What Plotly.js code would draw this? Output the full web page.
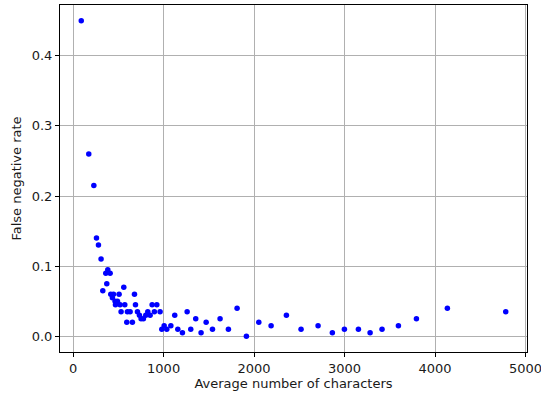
<!DOCTYPE html>
<html>
<head>
<meta charset="utf-8">
<script src="https://cdn.plot.ly/plotly-3.0.1.min.js"></script>
<style>html,body{margin:0;padding:0;background:#fff;}#chart{width:541px;height:398px;}</style>
</head>
<body>
<div id="chart"></div>
<script>
const avgChars = [90, 173, 229, 258, 280, 309, 328, 361, 372, 383, 409, 416, 434, 446, 464, 468, 490, 508, 519, 530,
  560, 571, 593, 600, 630, 655, 678, 689, 711, 733, 751, 777, 803, 825, 851, 873, 898, 925, 961, 980,
  1006, 1035, 1080, 1123, 1157, 1208, 1260, 1300, 1355, 1414, 1470, 1540, 1624, 1716, 1812, 1915, 2052, 2188, 2357, 2519,
  2707, 2865, 2998, 3153, 3282, 3414, 3595, 3794, 4136, 4781];
const fnRate = [0.45, 0.26, 0.215, 0.14, 0.13, 0.11, 0.065, 0.09, 0.075, 0.095, 0.09, 0.06, 0.055, 0.06, 0.05, 0.045, 0.05, 0.06, 0.045, 0.035,
  0.07, 0.045, 0.02, 0.035, 0.035, 0.02, 0.06, 0.045, 0.035, 0.03, 0.025, 0.025, 0.03, 0.035, 0.03, 0.045, 0.035, 0.045, 0.035, 0.01,
  0.015, 0.01, 0.015, 0.03, 0.01, 0.005, 0.035, 0.01, 0.025, 0.005, 0.02, 0.01, 0.025, 0.01, 0.04, 0.0, 0.02, 0.015, 0.03, 0.01,
  0.015, 0.005, 0.01, 0.01, 0.005, 0.01, 0.015, 0.025, 0.04, 0.035];
const xTickVals = [0, 1000, 2000, 3000, 4000, 5000];
const xTickText = ["0", "1000", "2000", "3000", "4000", "5000"];
const yTickVals = [0.0, 0.1, 0.2, 0.3, 0.4];
const yTickText = ["0.0", "0.1", "0.2", "0.3", "0.4"];

const font = {family: "DejaVu Sans", size: 13, color: "#1a1a1a"};
const trace = {
  x: avgChars, y: fnRate, type: "scatter", mode: "markers",
  marker: {color: "#0000ff", size: 5.5, line: {width: 0}},
  hoverinfo: "none", cliponaxis: false
};
const axisCommon = {
  showgrid: true, gridcolor: "#b0b0b0", gridwidth: 1,
  zeroline: false, showline: true, linecolor: "#000", linewidth: 1, mirror: true,
  ticks: "outside", ticklen: 4, tickwidth: 1, tickcolor: "#000",
  tickfont: font, tickmode: "array", ticklabeloverflow: "allow"
};
const layout = {
  width: 541, height: 398,
  margin: {l: 60, r: 14, t: 5, b: 46, pad: 0},
  paper_bgcolor: "#fff", plot_bgcolor: "#fff",
  font: font, showlegend: false,
  xaxis: Object.assign({}, axisCommon, {
    range: [-145, 5016], tickvals: xTickVals, ticktext: xTickText,
    title: {text: "Average number of characters", font: font, standoff: 3}
  }),
  yaxis: Object.assign({}, axisCommon, {
    range: [-0.0225, 0.4725], tickvals: yTickVals, ticktext: yTickText,
    title: {text: "False negative rate", font: font, standoff: 7}
  })
};
Plotly.newPlot("chart", [trace], layout, {staticPlot: true, displayModeBar: false});
</script>
</body>
</html>
